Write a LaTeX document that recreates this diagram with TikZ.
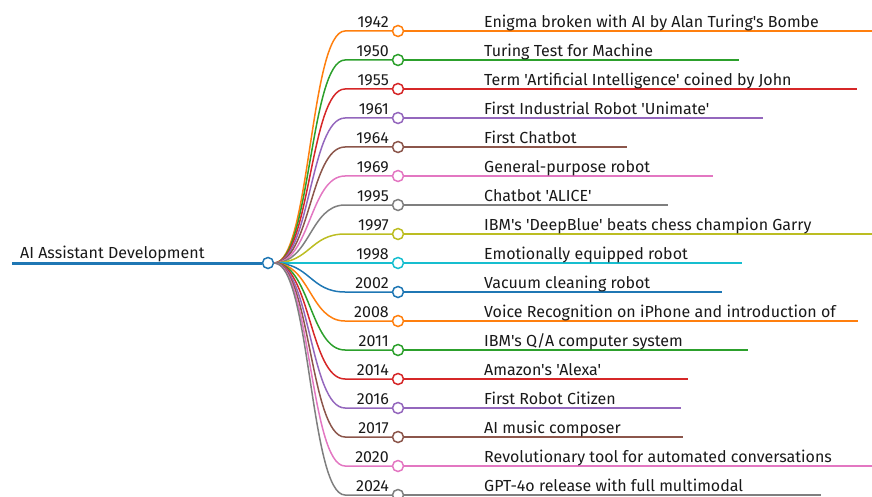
\documentclass[tikz,border=0pt]{standalone}
\usepackage{fontspec}
\setmainfont{Fira Sans}[Ligatures=TeXOff]

\definecolor{tabblue}{HTML}{1F77B4}
\definecolor{taborange}{HTML}{FF7F0E}
\definecolor{tabgreen}{HTML}{2CA02C}
\definecolor{tabred}{HTML}{D62728}
\definecolor{tabpurple}{HTML}{9467BD}
\definecolor{tabbrown}{HTML}{8C564B}
\definecolor{tabpink}{HTML}{E377C2}
\definecolor{tabgray}{HTML}{7F7F7F}
\definecolor{tabolive}{HTML}{BCBD22}
\definecolor{tabcyan}{HTML}{17BECF}

\begin{document}
\begin{tikzpicture}[x=1pt, y=-1pt, font=\fontsize{16}{18}\selectfont,
    dot/.style={circle, fill=white, line width=1.5pt, minimum size=11pt, inner sep=0pt},
    branch/.style={line width=1.5pt},
    year/.style={anchor=base east, inner sep=0pt, text=black!90},
    desc/.style={anchor=base west, inner sep=0pt, text=black!90}]
      \useasboundingbox (0,0) rectangle (872,497);

      % Root of the map
      \coordinate (start) at (12,263);
      \node[dot, draw=tabblue] (root) at (268,263) {};
      \draw[tabblue, line width=3pt] (start) -- (root.west);
      \node[desc] (title) at (20,258) {AI Assistant Development};

      % Branches: year / text / colour / end of line
      \foreach \yr/\txt/\col/\len [count=\i] in {
        1942/Enigma broken with AI by Alan Turing's Bombe/taborange/872,
        1950/Turing Test for Machine/tabgreen/739,
        1955/Term 'Artificial Intelligence' coined by John/tabred/857,
        1961/First Industrial Robot 'Unimate'/tabpurple/763,
        1964/First Chatbot/tabbrown/627,
        1969/General-purpose robot/tabpink/713,
        1995/Chatbot 'ALICE'/tabgray/668,
        1997/IBM's 'DeepBlue' beats chess champion Garry/tabolive/872,
        1998/Emotionally equipped robot/tabcyan/742,
        2002/Vacuum cleaning robot/tabblue/722,
        2008/Voice Recognition on iPhone and introduction of/taborange/858,
        2011/{IBM's Q/A computer system}/tabgreen/748,
        2014/Amazon's 'Alexa'/tabred/688,
        2016/First Robot Citizen/tabpurple/681,
        2017/AI music composer/tabbrown/683,
        2020/Revolutionary tool for automated conversations/tabpink/872,
        2024/GPT-4o release with full multimodal/tabgray/821} {
        \pgfmathsetmacro\ypos{31+(\i-1)*29}
        \node[dot, draw=\col] (c\i) at (398,\ypos) {};
        \coordinate (b\i) at (345,\ypos);
        \coordinate (e\i) at (\len,\ypos);
        \draw[branch, \col] (root.east) .. controls (310,263) and (310,\ypos) .. (b\i) -- (c\i.west);
        \draw[branch, \col] (c\i.east) -- (e\i);
        \node[year] (y\i) at (389,\ypos-3.5) {\yr};
        \node[desc] (d\i) at (484,\ypos-3.5) {\txt};
      }
    \end{tikzpicture}
\end{document}
